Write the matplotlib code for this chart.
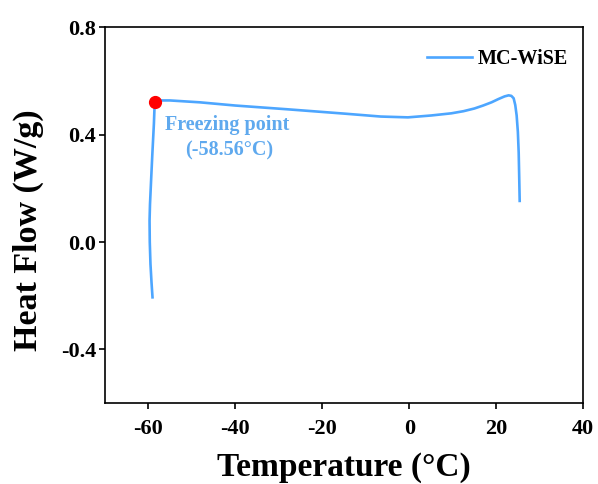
import matplotlib
matplotlib.use("Agg")
import matplotlib.pyplot as plt

# Data (temperature in °C, heat flow in W/g)
temperature = [25.42, 25.3, 25.19, 25.0, 24.72, 24.4, 24.03, 23.5, 22.87, 21.94,
               20.5, 18.94, 17.0, 15.0, 12.5, 9.68, 5.05,
               -0.28, -6.53, -15.0, -28.0, -40.0, -48.2, -55.1, -57.5, -58.56,
               -58.75, -59.1, -59.4, -59.65, -59.75, -59.7, -59.54, -59.3, -59.07]
heat_flow = [0.153, 0.25, 0.333, 0.41, 0.471, 0.51, 0.535, 0.544, 0.546, 0.542,
             0.532, 0.520, 0.508, 0.497, 0.487, 0.479, 0.471,
             0.464, 0.467, 0.478, 0.494, 0.508, 0.520, 0.527, 0.527, 0.523,
             0.44, 0.33, 0.228, 0.14, 0.079, 0.0, -0.082, -0.15, -0.206]
freeze_T = -58.56
freeze_H = 0.523
series_label = "MC-WiSE"
xticks = [-60, -40, -20, 0, 20, 40]
yticks = [-0.4, 0.0, 0.4, 0.8]

plt.rcParams['font.family'] = ['Liberation Serif', 'DejaVu Serif']
plt.rcParams['font.weight'] = 'bold'

fig = plt.figure(figsize=(5.98, 4.84), dpi=100)
ax = fig.add_axes([0.1756, 0.167, 0.7994, 0.777])

line_color = '#4DA6FF'
ax.plot(temperature, heat_flow, color=line_color, lw=1.9, label=series_label,
        solid_joinstyle='round')
ax.plot([freeze_T], [freeze_H], 'o', color='#FF0000', markersize=8.5, zorder=5)

ax.text(-41.9, 0.437, "Freezing point", color='#5FA9EE', fontsize=14.5,
        fontweight='bold', ha='center', va='center')
ax.text(-41.4, 0.340, "(-58.56\u00b0C)", color='#5FA9EE', fontsize=14.5,
        fontweight='bold', ha='center', va='center')

ax.set_xlim(-70, 40)
ax.set_ylim(-0.6, 0.8)
ax.set_xticks(xticks)
ax.set_yticks(yticks)
ax.set_xticklabels([str(t) for t in xticks])
ax.set_yticklabels(["%.1f" % t for t in yticks])
ax.tick_params(direction='out', length=4.5, width=1.2, labelsize=16)
ax.tick_params(axis='x', pad=7)
ax.tick_params(axis='y', pad=2)
for s in ax.spines.values():
    s.set_linewidth(1.2)

ax.set_xlabel("Temperature (\u00b0C)", fontsize=24, fontweight='bold', labelpad=9)
ax.set_ylabel("Heat Flow (W/g)", fontsize=24.5, fontweight='bold')
ax.yaxis.set_label_coords(-0.128, 0.46)

leg = ax.legend(loc='upper right', frameon=False, fontsize=14.5,
                handlelength=2.2, handletextpad=0.3, bbox_to_anchor=(1.006, 0.99))
for t in leg.get_texts():
    t.set_fontweight('bold')

fig.savefig("out.png", dpi=100)
